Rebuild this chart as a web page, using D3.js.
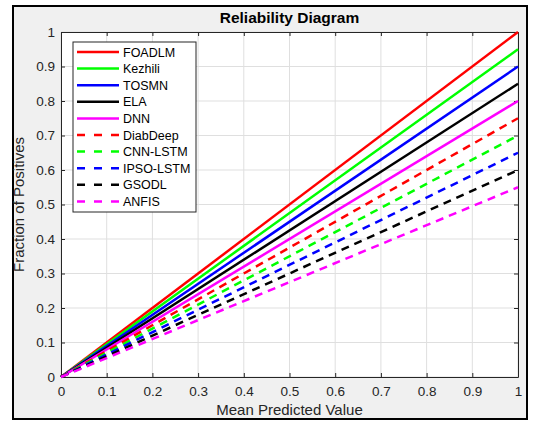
<!DOCTYPE html>
<html><head><meta charset="utf-8">
<script src="https://cdn.jsdelivr.net/npm/d3@7"></script>
<style>
html,body{margin:0;padding:0;background:#fff;}
text{font-family:"Liberation Sans",Arial,sans-serif;}
</style></head>
<body><svg id="c" width="534" height="424"></svg>
<script>
const seriesNames = ["FOADLM","Kezhili","TOSMN","ELA","DNN","DiabDeep","CNN-LSTM","IPSO-LSTM","GSODL","ANFIS"];
const seriesColors = ["#ff0000","#00ff00","#0000ff","#000000","#ff00ff","#ff0000","#00ff00","#0000ff","#000000","#ff00ff"];
const seriesDashed = [false,false,false,false,false,true,true,true,true,true];
const xPoints = [0, 1];
const seriesEnd = [1.0,0.95,0.9,0.85,0.8,0.75,0.7,0.65,0.6,0.55];
const tickValues = [0,0.1,0.2,0.3,0.4,0.5,0.6,0.7,0.8,0.9,1];
const tickLabels = ["0","0.1","0.2","0.3","0.4","0.5","0.6","0.7","0.8","0.9","1"];

const svg = d3.select("#c");
svg.append("rect").attr("x",0).attr("y",0).attr("width",534).attr("height",424).attr("fill","#ffffff");
svg.append("rect").attr("x",13).attr("y",6).attr("width",514).attr("height",413).attr("fill","#f0f0f0").attr("stroke","#000").attr("stroke-width",2);

const L=61,R=518,T=32,B=377;
const x = d3.scaleLinear().domain([0,1]).range([L,R]);
const y = d3.scaleLinear().domain([0,1]).range([B,T]);

svg.append("rect").attr("x",L).attr("y",T).attr("width",R-L).attr("height",B-T).attr("fill","#fff");

// grid
const g = svg.append("g");
g.selectAll(".gx").data(tickValues).join("line").attr("x1",d=>x(d)).attr("x2",d=>x(d)).attr("y1",T).attr("y2",B).attr("stroke","#dfdfdf").attr("stroke-width",1);
g.selectAll(".gy").data(tickValues).join("line").attr("y1",d=>y(d)).attr("y2",d=>y(d)).attr("x1",L).attr("x2",R).attr("stroke","#dfdfdf").attr("stroke-width",1);

// axes
const fmt = (d,i)=>tickLabels[i];
const ax = svg.append("g").attr("transform",`translate(0,${B})`).call(d3.axisBottom(x).tickValues(tickValues).tickFormat(fmt).tickSizeInner(-4).tickSizeOuter(0).tickPadding(9));
const ay = svg.append("g").attr("transform",`translate(${L},0)`).call(d3.axisLeft(y).tickValues(tickValues).tickFormat(fmt).tickSizeInner(-4).tickSizeOuter(0).tickPadding(6));
const at = svg.append("g").attr("transform",`translate(0,${T})`).call(d3.axisTop(x).tickValues(tickValues).tickFormat("").tickSizeInner(-4).tickSizeOuter(0));
const ar = svg.append("g").attr("transform",`translate(${R},0)`).call(d3.axisRight(y).tickValues(tickValues).tickFormat("").tickSizeInner(-4).tickSizeOuter(0));
[ax,ay,at,ar].forEach(a=>{
  a.selectAll("path").attr("stroke","#262626").attr("stroke-width",1);
  a.selectAll("line").attr("stroke","#262626");
  a.selectAll("text").attr("fill","#262626").attr("font-size",13.5).attr("font-family","Liberation Sans, Arial, sans-serif");
});

// lines
const line = d3.line().x(d=>x(d[0])).y(d=>y(d[1]));
seriesNames.forEach((n,i)=>{
  const pts = xPoints.map(px=>[px, px*seriesEnd[i]]);
  svg.append("path").attr("d",line(pts)).attr("fill","none").attr("stroke",seriesColors[i]).attr("stroke-width",2.5)
    .attr("stroke-dasharray",seriesDashed[i]?"8,6":null);
});

// legend
const lg = svg.append("g");
lg.append("rect").attr("x",73).attr("y",42).attr("width",123).attr("height",170).attr("fill","#fff").attr("stroke","#262626").attr("stroke-width",1);
seriesNames.forEach((n,i)=>{
  const yy = 52 + i*16.6;
  lg.append("line").attr("x1",77).attr("x2",119).attr("y1",yy).attr("y2",yy).attr("stroke",seriesColors[i]).attr("stroke-width",2.5)
    .attr("stroke-dasharray",seriesDashed[i]?"8,9":null);
  lg.append("text").attr("x",123).attr("y",yy+4.5).attr("font-size",12.5).attr("fill","#000").text(n);
});

// titles
svg.append("text").attr("x",(L+R)/2).attr("y",23).attr("text-anchor","middle").attr("font-size",15.5).attr("font-weight","bold").attr("fill","#000").text("Reliability Diagram");
svg.append("text").attr("x",(L+R)/2).attr("y",415).attr("text-anchor","middle").attr("font-size",15).attr("fill","#262626").text("Mean Predicted Value");
svg.append("text").attr("transform",`translate(24,${(T+B)/2}) rotate(-90)`).attr("text-anchor","middle").attr("font-size",15).attr("fill","#262626").text("Fraction of Positives");
</script></body></html>
